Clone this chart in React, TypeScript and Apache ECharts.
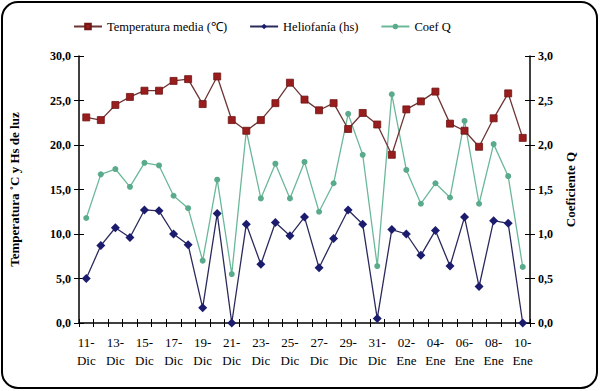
import React, { useEffect, useRef } from "react";
import * as echarts from "echarts";

const categories = [
  "11-Dic","12-Dic","13-Dic","14-Dic","15-Dic","16-Dic","17-Dic","18-Dic","19-Dic","20-Dic",
  "21-Dic","22-Dic","23-Dic","24-Dic","25-Dic","26-Dic","27-Dic","28-Dic","29-Dic","30-Dic",
  "31-Dic","01-Ene","02-Ene","03-Ene","04-Ene","05-Ene","06-Ene","07-Ene","08-Ene","09-Ene","10-Ene"
];
const temperatura = [
  23.1, 22.8, 24.5, 25.4, 26.1, 26.1, 27.2, 27.4, 24.6, 27.7,
  22.8, 21.6, 22.8, 24.7, 27.0, 25.1, 23.9, 24.7, 21.8, 23.6,
  22.3, 18.9, 24.0, 24.9, 26.0, 22.4, 21.6, 19.8, 23.0, 25.8, 20.8
];
const heliofania = [
  5.0, 8.7, 10.7, 9.6, 12.7, 12.6, 10.0, 8.8, 1.7, 12.3,
  0.0, 11.1, 6.6, 11.3, 9.8, 11.9, 6.2, 9.5, 12.7, 11.1,
  0.5, 10.5, 10.0, 7.6, 10.4, 6.4, 11.9, 4.1, 11.5, 11.2, 0.0
];
const coefQ = [
  1.18, 1.67, 1.73, 1.53, 1.80, 1.77, 1.43, 1.29, 0.70, 1.61,
  0.55, 2.16, 1.40, 1.79, 1.40, 1.81, 1.25, 1.57, 2.35, 1.89,
  0.64, 2.57, 1.72, 1.34, 1.57, 1.41, 2.27, 1.34, 2.01, 1.65, 0.63
];
const seriesNames = ["Temperatura media (\u2103)", "Heliofan\u00eda (hs)", "Coef Q"];
const leftAxisName = "Temperatura \u02daC y Hs de luz";
const rightAxisName = "Coeficiente Q";

const FONT = "Liberation Serif";
const fmt = (v: number) => v.toFixed(1).replace(".", ",");

export default function App() {
  const ref = useRef<HTMLDivElement>(null);
  useEffect(() => {
    if (!ref.current) return;
    const chart = echarts.init(ref.current, undefined, { renderer: "svg" });
    const axisLine = { show: true, lineStyle: { color: "#000", width: 1.5 } };
    const labelStyle = { color: "#000", fontFamily: FONT, fontWeight: "bold" as const, fontSize: 12 };
    chart.setOption({
      animation: false,
      backgroundColor: "#fff",
      textStyle: { fontFamily: FONT },
      graphic: [
        {
          type: "rect",
          shape: { x: 2, y: 2, width: 595, height: 386, r: 16 },
          style: { fill: "none", stroke: "#000", lineWidth: 2 },
          silent: true,
        },
      ],
      legend: {
        top: 15,
        left: 68,
        itemGap: 22,
        itemWidth: 28,
        itemHeight: 7,
        textStyle: { fontFamily: FONT, fontSize: 12.5, color: "#000" },
        data: seriesNames,
      },
      grid: { left: 78, right: 70, top: 56, bottom: 68, containLabel: false },
      xAxis: [
        {
          type: "category",
          data: categories,
          boundaryGap: true,
          axisLine,
          axisTick: { show: true, interval: 0, length: 4, lineStyle: { color: "#000" } },
          axisLabel: {
            interval: 1,
            color: "#000",
            fontFamily: FONT,
            fontSize: 13,
            lineHeight: 18,
            margin: 10,
            formatter: (v: string) => v.replace("-", "-\n"),
          },
        },
        {
          type: "category",
          data: categories,
          position: "bottom",
          boundaryGap: true,
          axisLine: { show: false },
          axisTick: { show: true, inside: true, interval: 0, length: 4, lineStyle: { color: "#000" } },
          axisLabel: { show: false },
        },
      ],
      yAxis: [
        {
          type: "value",
          min: 0,
          max: 30,
          interval: 5,
          position: "left",
          name: leftAxisName,
          nameLocation: "middle",
          nameGap: 58,
          nameTextStyle: { fontFamily: FONT, fontWeight: "bold", fontSize: 13, color: "#000" },
          axisLine,
          axisTick: { show: true, length: 5, lineStyle: { color: "#000" } },
          axisLabel: { ...labelStyle, margin: 8, formatter: fmt },
          splitLine: { show: false },
        },
        {
          type: "value",
          min: 0,
          max: 3,
          interval: 0.5,
          position: "right",
          name: rightAxisName,
          nameLocation: "middle",
          nameGap: 34,
          nameRotate: 90,
          nameTextStyle: { fontFamily: FONT, fontWeight: "bold", fontSize: 13, color: "#000" },
          axisLine,
          axisTick: { show: true, length: 5, lineStyle: { color: "#000" } },
          axisLabel: { ...labelStyle, margin: 8, formatter: fmt },
          splitLine: { show: false },
        },
        {
          type: "value",
          min: 0,
          max: 30,
          interval: 5,
          position: "left",
          axisLine: { show: false },
          axisTick: { show: true, inside: true, length: 5, lineStyle: { color: "#000" } },
          axisLabel: { show: false },
          splitLine: { show: false },
        },
        {
          type: "value",
          min: 0,
          max: 3,
          interval: 0.5,
          position: "right",
          axisLine: { show: false },
          axisTick: { show: true, inside: true, length: 5, lineStyle: { color: "#000" } },
          axisLabel: { show: false },
          splitLine: { show: false },
        },
      ],
      series: [
        {
          name: seriesNames[0],
          type: "line",
          yAxisIndex: 0,
          data: temperatura,
          symbol: "rect",
          symbolSize: 7,
          lineStyle: { color: "#6e3434", width: 1.3 },
          itemStyle: { color: "#9a1d1d", borderColor: "#6e1515", borderWidth: 0.8 },
          z: 3,
        },
        {
          name: seriesNames[1],
          type: "line",
          yAxisIndex: 0,
          data: heliofania,
          symbol: "diamond",
          symbolSize: 9,
          lineStyle: { color: "#2a2a5c", width: 1.3 },
          itemStyle: { color: "#1c1c6e" },
          z: 4,
        },
        {
          name: seriesNames[2],
          type: "line",
          yAxisIndex: 1,
          data: coefQ,
          symbol: "circle",
          symbolSize: 6,
          showSymbol: true,
          lineStyle: { color: "#6bb899", width: 1.3 },
          itemStyle: { color: "#5aab8c" },
          z: 2,
        },
      ],
    });
    return () => chart.dispose();
  }, []);
  return (
    <div
      ref={ref}
      style={{ position: "fixed", left: 0, top: 0, width: 600, height: 391 }}
    />
  );
}
